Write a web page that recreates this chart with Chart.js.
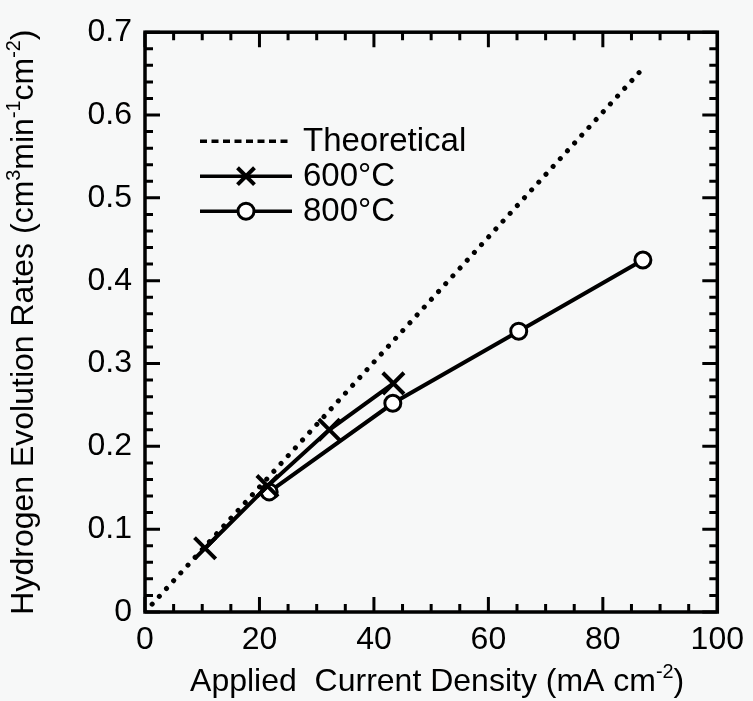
<!DOCTYPE html>
<html>
<head>
<meta charset="utf-8">
<script src="https://cdn.jsdelivr.net/npm/chart.js@4"></script>
<style>
  html, body { margin: 0; padding: 0; background: #f7f8f8; }
</style>
</head>
<body>
<canvas id="chart" width="753" height="701"></canvas>
<script>
// ===== DATA =====
const X_TICKS = [0, 20, 40, 60, 80, 100];
const Y_TICKS = [0, 0.1, 0.2, 0.3, 0.4, 0.5, 0.6, 0.7];

const THEO_X = [0, 87.5];
const THEO_Y = [0, 0.66];

const T600_X = [10.5, 21.4, 32.2, 43.4];
const T600_Y = [0.077, 0.152, 0.22, 0.276];

const T800_X = [21.7, 43.3, 65.3, 87];
const T800_Y = [0.145, 0.252, 0.339, 0.425];

const FONT = '"Liberation Sans", Arial, Helvetica, sans-serif';
const toPts = (xs, ys) => xs.map((x, i) => ({ x: x, y: ys[i] }));

// frame + inward ticks on all four sides
const framePlugin = {
  id: 'frame',
  afterDatasetsDraw(chart) {
    const { ctx, chartArea: a, scales: { x, y } } = chart;
    ctx.save();
    ctx.strokeStyle = '#000';
    ctx.lineWidth = 3.5;
    ctx.strokeRect(a.left, a.top, a.right - a.left, a.bottom - a.top);
    ctx.lineWidth = 3;
    ctx.beginPath();
    for (let v = 0; v <= 100; v += 5) {
      const px = x.getPixelForValue(v);
      const len = v % 20 === 0 ? 15 : 8;
      ctx.moveTo(px, a.bottom); ctx.lineTo(px, a.bottom - len);
      ctx.moveTo(px, a.top); ctx.lineTo(px, a.top + len);
    }
    for (let i = 0; i <= 35; i++) {
      const py = y.getPixelForValue(i * 0.02);
      const len = i % 5 === 0 ? 15 : 8;
      ctx.moveTo(a.left, py); ctx.lineTo(a.left + len, py);
      ctx.moveTo(a.right, py); ctx.lineTo(a.right - len, py);
    }
    ctx.stroke();
    ctx.restore();
  }
};

// legend inside the plot, upper left
const legendPlugin = {
  id: 'innerLegend',
  afterDraw(chart) {
    const { ctx, chartArea: a } = chart;
    const x0 = a.left + 55, x1 = a.left + 147;
    ctx.save();
    ctx.font = '33px ' + FONT;
    ctx.textBaseline = 'middle';
    chart.data.datasets.forEach((ds, i) => {
      const yy = a.top + 109 + i * 35;
      ctx.strokeStyle = '#000';
      ctx.lineWidth = 3.5;
      ctx.setLineDash(i === 0 ? [7, 4.5] : []);
      ctx.lineCap = 'butt';
      ctx.beginPath(); ctx.moveTo(x0, yy); ctx.lineTo(x1, yy); ctx.stroke();
      ctx.setLineDash([]);
      if (ds.pointRadius > 0) {
        ctx.fillStyle = ds.pointBackgroundColor;
        ctx.strokeStyle = '#000';
        ctx.lineWidth = ds.pointBorderWidth;
        Chart.helpers.drawPoint(ctx, {
          pointStyle: ds.pointStyle,
          radius: ds.pointStyle === 'crossRot' ? 12 : ds.pointRadius,
          borderWidth: ds.pointBorderWidth, rotation: 0
        }, (x0 + x1) / 2, yy);
      }
      ctx.fillStyle = '#000';
      ctx.fillText(ds.label, a.left + 158, yy + 1);
    });
    ctx.restore();
  }
};

// axis titles with superscripts
function drawRich(ctx, parts, size) {
  const sup = size * 0.62;
  let w = 0;
  parts.forEach(p => {
    ctx.font = (p.sup ? sup : size) + 'px ' + FONT;
    p.w = ctx.measureText(p.t).width;
    w += p.w;
  });
  let cx = -w / 2;
  parts.forEach(p => {
    ctx.font = (p.sup ? sup : size) + 'px ' + FONT;
    ctx.fillText(p.t, cx, p.sup ? -size * 0.4 : 0);
    cx += p.w;
  });
}

const titlePlugin = {
  id: 'axisTitles',
  afterDraw(chart) {
    const { ctx, chartArea: a } = chart;
    ctx.save();
    ctx.fillStyle = '#000';
    ctx.textBaseline = 'alphabetic';
    ctx.translate((a.left + a.right) / 2 + 6, 691);
    drawRich(ctx, [
      { t: 'Applied  Current Density (mA cm' }, { t: '-2', sup: true }, { t: ')' }
    ], 32);
    ctx.restore();
    ctx.save();
    ctx.fillStyle = '#000';
    ctx.translate(33, (a.top + a.bottom) / 2);
    ctx.rotate(-Math.PI / 2);
    drawRich(ctx, [
      { t: 'Hydrogen Evolution Rates (cm' }, { t: '3', sup: true }, { t: 'min' },
      { t: '-1', sup: true }, { t: 'cm' }, { t: '-2', sup: true }, { t: ')' }
    ], 32);
    ctx.restore();
  }
};

new Chart(document.getElementById('chart'), {
  type: 'scatter',
  data: {
    datasets: [
      {
        label: 'Theoretical',
        data: toPts(THEO_X, THEO_Y),
        showLine: true,
        borderColor: '#000', borderWidth: 5,
        borderDash: [0.1, 10.5], borderCapStyle: 'round',
        pointRadius: 0
      },
      {
        label: '600°C',
        data: toPts(T600_X, T600_Y),
        showLine: true,
        borderColor: '#000', borderWidth: 4,
        pointStyle: 'crossRot', pointRadius: 15,
        pointBorderColor: '#000', pointBackgroundColor: '#000', pointBorderWidth: 4
      },
      {
        label: '800°C',
        data: toPts(T800_X, T800_Y),
        showLine: true,
        borderColor: '#000', borderWidth: 4,
        pointStyle: 'circle', pointRadius: 8,
        pointBorderColor: '#000', pointBackgroundColor: '#fff', pointBorderWidth: 3
      }
    ]
  },
  options: {
    responsive: false,
    animation: false,
    layout: { padding: { top: 32, right: 32, left: 0, bottom: 0 } },
    plugins: { legend: { display: false }, tooltip: { enabled: false } },
    scales: {
      x: {
        type: 'linear', min: 0, max: 100,
        afterBuildTicks: s => { s.ticks = X_TICKS.map(v => ({ value: v })); },
        afterFit: s => { s.height = 89; },
        grid: { display: false, drawTicks: false },
        border: { display: false },
        ticks: { color: '#000', padding: 9, maxRotation: 0, font: { family: FONT, size: 32 } }
      },
      y: {
        type: 'linear', min: 0, max: 0.7,
        afterBuildTicks: s => { s.ticks = Y_TICKS.map(v => ({ value: v })); },
        afterFit: s => { s.width = 145; },
        grid: { display: false, drawTicks: false },
        border: { display: false },
        ticks: {
          color: '#000', padding: 13, font: { family: FONT, size: 32 },
          callback: v => String(Math.round(v * 10) / 10)
        }
      }
    }
  },
  plugins: [framePlugin, legendPlugin, titlePlugin]
});
</script>
</body>
</html>
